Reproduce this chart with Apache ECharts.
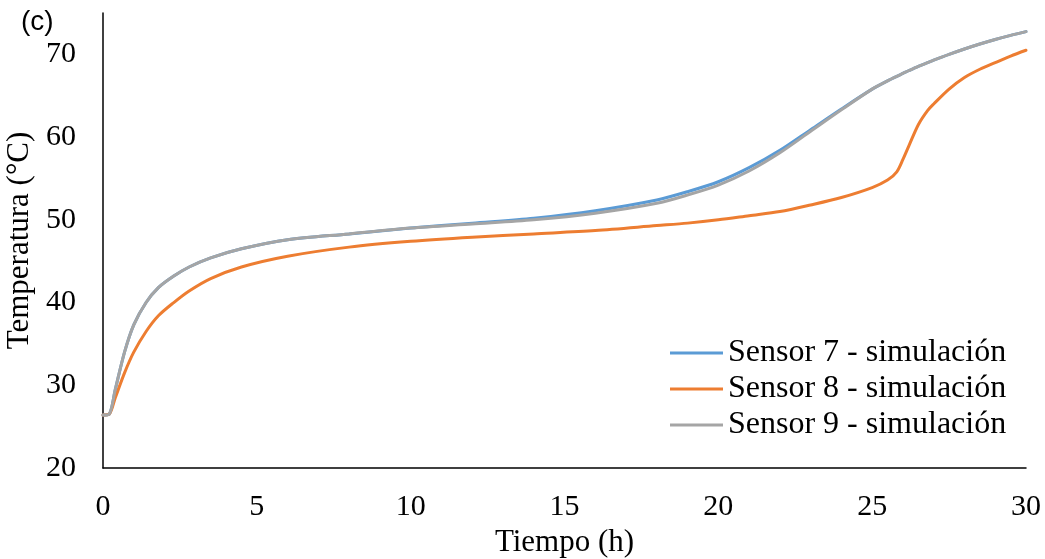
<!DOCTYPE html>
<html>
<head>
<meta charset="utf-8">
<title>Temperatura - sensores 7, 8, 9</title>
<script src="https://cdn.jsdelivr.net/npm/echarts@6/dist/echarts.min.js"></script>
<style>
    html, body { margin: 0; padding: 0; background: #fff; }
    #chart { width: 1045px; height: 559px; }
</style>
</head>
<body>
<div id="chart"></div>
<script>
// time (h), shared by the three series
var tiempo = [0, 0.2, 0.4, 0.7, 1, 1.4, 1.8, 2.3, 2.8, 3.5, 4.5, 6, 8, 10, 12, 14, 16, 18, 19, 20,
    21, 22, 23, 24, 25, 25.5, 25.8, 26, 26.2, 26.5, 26.8, 27, 27.5, 28, 28.5, 29, 29.5, 30];

var sensor7 = [26.4, 26.5, 29.5, 34.0, 37.3, 40.0, 41.8, 43.2, 44.3, 45.4, 46.5, 47.6, 48.3, 49.0, 49.6, 50.2, 51.1, 52.4, 53.4, 54.6,
    56.3, 58.4, 60.9, 63.4, 65.8, 66.8, 67.35, 67.7, 68.05, 68.55, 69.0, 69.3, 70.0, 70.65, 71.25, 71.8, 72.3, 72.75];

var sensor8 = [26.4, 26.5, 28.5, 31.5, 34.0, 36.5, 38.4, 40.0, 41.4, 42.9, 44.3, 45.6, 46.7, 47.4, 47.9, 48.3, 48.7, 49.3, 49.6, 50.0,
    50.5, 51.0, 51.8, 52.7, 53.9, 54.8, 55.8, 57.3, 59.0, 61.5, 63.2, 64.0, 65.8, 67.2, 68.2, 69.0, 69.8, 70.5];

var sensor9 = [26.4, 26.5, 29.5, 34.0, 37.3, 40.0, 41.8, 43.2, 44.3, 45.4, 46.5, 47.6, 48.3, 49.0, 49.5, 50.0, 50.8, 52.0, 53.0, 54.2,
    55.9, 58.1, 60.7, 63.3, 65.8, 66.8, 67.35, 67.7, 68.05, 68.55, 69.0, 69.3, 70.0, 70.65, 71.25, 71.8, 72.3, 72.75];

var nombres = ["Sensor 7 - simulación", "Sensor 8 - simulación", "Sensor 9 - simulación"];
var colores = ["#5B9BD5", "#ED7D31", "#A5A5A5"];

function pares(ys) {
    return tiempo.map(function (t, i) { return [t, ys[i]]; });
}

var serif = "'Liberation Serif', 'Times New Roman', serif";

var chart = echarts.init(document.getElementById("chart"));

var option = {
    animation: false,
    color: colores,
    grid: { left: 103, right: 19, top: 13, bottom: 91, outerBoundsMode: "none" },
    graphic: [{
        type: "text",
        left: 21,
        top: 8,
        style: { text: "(c)", font: "28px 'Liberation Sans', Arial, sans-serif", fill: "#000" }
    }],
    legend: {
        orient: "vertical",
        left: 670,
        top: 337,
        padding: 0,
        icon: "rect",
        itemWidth: 53,
        itemHeight: 3,
        itemGap: 4,
        textStyle: { fontFamily: serif, fontSize: 32, color: "#000", lineHeight: 32 },
        data: nombres
    },
    xAxis: {
        type: "value",
        min: 0,
        max: 30,
        interval: 5,
        name: "Tiempo (h)",
        nameLocation: "middle",
        nameGap: 58,
        nameTextStyle: { fontFamily: serif, fontSize: 31, color: "#000" },
        axisLine: { lineStyle: { color: "#000", width: 1.5 } },
        axisTick: { show: false },
        splitLine: { show: false },
        axisLabel: { fontFamily: serif, fontSize: 30, color: "#000", margin: 24 }
    },
    yAxis: {
        type: "value",
        min: 20,
        max: 75,
        interval: 10,
        name: "Temperatura (°C)",
        nameLocation: "middle",
        nameRotate: 90,
        nameGap: 60,
        nameTextStyle: { fontFamily: serif, fontSize: 31, color: "#000" },
        axisLine: { show: true, lineStyle: { color: "#000", width: 1.5 } },
        axisTick: { show: false },
        splitLine: { show: false },
        axisLabel: { fontFamily: serif, fontSize: 30, color: "#000", margin: 27, showMaxLabel: false }
    },
    series: [sensor7, sensor8, sensor9].map(function (ys, i) {
        return {
            name: nombres[i],
            type: "line",
            data: pares(ys),
            smooth: 0.3,
            showSymbol: false,
            lineStyle: { width: 3, color: colores[i], cap: "round" },
            itemStyle: { color: colores[i] }
        };
    })
};

chart.setOption(option);
</script>
</body>
</html>
